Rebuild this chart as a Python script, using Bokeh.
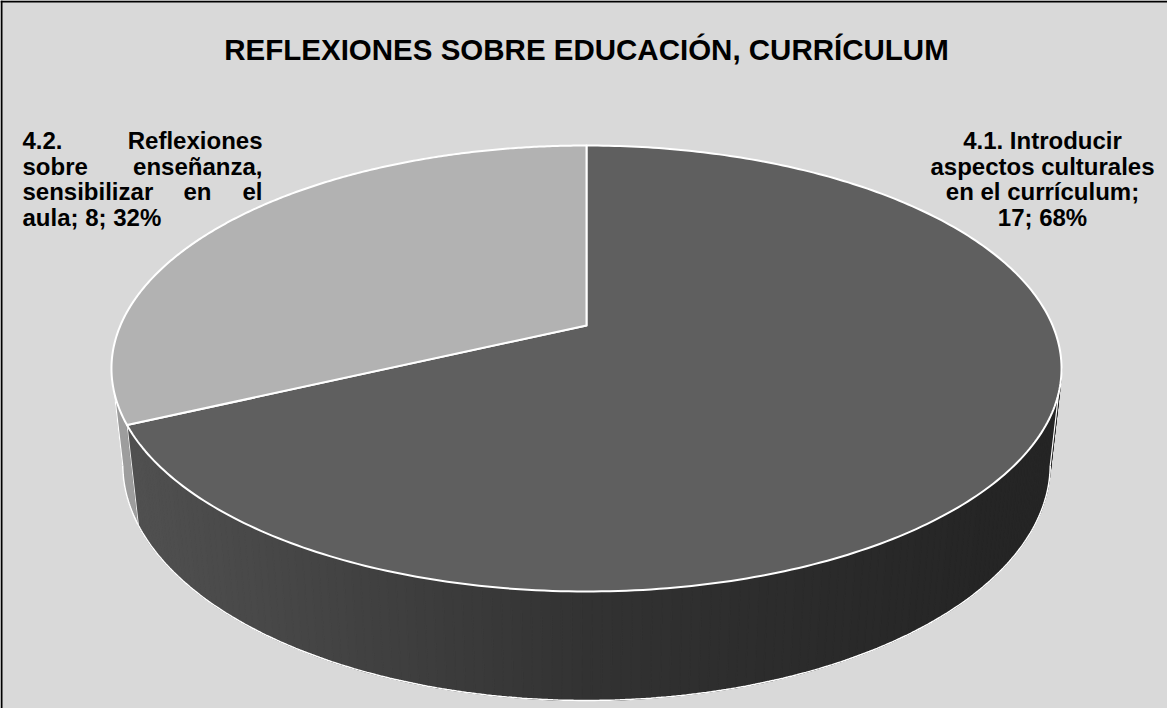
import numpy as np
from bokeh.plotting import figure
from bokeh.models import Range1d, Span
from bokeh.core.properties import value
from bokeh.embed import file_html
from bokeh.resources import INLINE

# ---------------- data ----------------
categories = [
    "4.1. Introducir aspectos culturales en el currículum",
    "4.2. Reflexiones sobre enseñanza, sensibilizar en el aula",
]
counts = [17, 8]
top_colors = ["#5f5f5f", "#b2b2b2"]
title_text = "REFLEXIONES SOBRE EDUCACIÓN, CURRÍCULUM"

total = sum(counts)
pcts = [round(100 * c / total) for c in counts]

# label line breaks (layout of the data labels)
label1_lines = ["4.1. Introducir", "aspectos culturales", "en el currículum;",
                f"{counts[0]}; {pcts[0]}%"]
label2_words = [["4.2.", "Reflexiones"], ["sobre", "enseñanza,"],
                ["sensibilizar", "en", "el"], [f"aula; {counts[1]}; {pcts[1]}%"]]

# ---------------- layout ----------------
W, H = 1167, 708
OFF = 8  # page margin; data coords = page px - 8
FONT = value("Liberation Sans")

p = figure(width=W, height=H, x_range=Range1d(0, W), y_range=Range1d(H, 0),
           output_backend="svg", toolbar_location=None, min_border=0,
           x_axis_location=None, y_axis_location=None)
p.grid.visible = False
p.outline_line_color = None
p.background_fill_color = "#d9d9d9"
p.border_fill_color = "#d9d9d9"

# perspective projection of a disk (radius 1, thickness h)
cx, cy = 594 - OFF, 333 - OFF
sin_a, cos_a = 0.4606, 0.8876
dist = 4.604
Fp = 2146.0
h = 0.2338


def proj(phi, z):
    depth = dist + cos_a * np.cos(phi) - z * sin_a
    sx = Fp * np.sin(phi) / depth
    sy = Fp * (sin_a * np.cos(phi) + z * cos_a) / depth
    return cx + sx, cy - sy


bounds = np.concatenate([[0], np.cumsum(counts)]) / total * 2 * np.pi
phi_r = np.arccos(-cos_a / dist)
phi_l = 2 * np.pi - phi_r


def dark_shade(xpage):
    v = int(round(np.interp(xpage, [140, 600, 1000], [80, 50, 37])))
    return "#%02x%02x%02x" % (v, v, v)


# walls: base patch per slice (avoids seams), then gradient strips
base_xs, base_ys, base_cols = [], [], []
wall_xs, wall_ys, wall_cols = [], [], []
for i in range(len(counts)):
    a0 = max(bounds[i], phi_r)
    a1 = min(bounds[i + 1], phi_l)
    if a1 <= a0:
        continue
    n = max(2, int(np.degrees(a1 - a0) / 1.0))
    ph = np.linspace(a0, a1, n + 1)
    tx, ty = proj(ph, 0)
    bx, by = proj(ph[::-1], -h)
    base_xs.append(np.concatenate([tx, bx]).tolist())
    base_ys.append(np.concatenate([ty, by]).tolist())
    base_cols.append("#3a3a3a" if i == 0 else "#9d9d9d")
    if i != 0:
        continue
    for j in range(n):
        tx0, ty0 = proj(ph[j], 0)
        tx1, ty1 = proj(ph[j + 1], 0)
        bx1, by1 = proj(ph[j + 1], -h)
        bx0, by0 = proj(ph[j], -h)
        wall_xs.append([tx0, tx1, bx1, bx0])
        wall_ys.append([ty0, ty1, by1, by0])
        wall_cols.append(dark_shade((tx0 + tx1) / 2 + OFF))
p.patches(base_xs, base_ys, fill_color=base_cols, line_color=base_cols, line_width=1)
p.patches(wall_xs, wall_ys, fill_color=wall_cols, line_color=wall_cols, line_width=1.2)

# wall outlines
ph = np.linspace(phi_r, phi_l, 300)
bx, by = proj(ph, -h)
p.line(bx, by, line_color="white", line_width=1.5)
for a in (phi_r, phi_l):
    x0, y0 = proj(a, 0)
    x1, y1 = proj(a, -h)
    p.line([x0, x1], [y0, y1], line_color="white", line_width=1.2)
for a in bounds[1:-1]:
    if phi_r < a < phi_l:
        x0, y0 = proj(a, 0)
        x1, y1 = proj(a, -h)
        p.line([x0, x1], [y0, y1], line_color="#e8e8e8", line_width=1)

# top faces
top_xs, top_ys = [], []
for i in range(len(counts)):
    ph = np.linspace(bounds[i], bounds[i + 1], 300)
    tx, ty = proj(ph, 0)
    top_xs.append(np.concatenate([[cx], tx]).tolist())
    top_ys.append(np.concatenate([[cy], ty]).tolist())
p.patches(top_xs, top_ys, fill_color=top_colors, line_color="white", line_width=2,
          line_join="round")

# border (left & top)
p.add_layout(Span(location=1, dimension="height", line_color="black", line_width=2))
p.add_layout(Span(location=1, dimension="width", line_color="black", line_width=2))

# title
p.text(x=[594 - OFF], y=[57 - OFF], text=[title_text], text_font=FONT,
       text_font_size="29.5px", text_font_style="bold", text_align="center",
       text_baseline="alphabetic", text_color="black")

# label 4.1 (centered)
base = [148, 173.5, 199, 224.5]
p.text(x=[1050 - OFF] * 4, y=[b - OFF for b in base], text=label1_lines, text_font=FONT,
       text_font_size="24px", text_font_style="bold", text_align="center",
       text_baseline="alphabetic", text_color="black")

# label 4.2 (justified)
lx, rx, mid = 30 - OFF, 270 - OFF, 205 - OFF
txs, tys, tts, tal = [], [], [], []
for k, words in enumerate(label2_words):
    yb = base[k] - OFF
    if len(words) == 1:
        txs.append(lx); tys.append(yb); tts.append(words[0]); tal.append("left")
    elif len(words) == 2:
        txs += [lx, rx]; tys += [yb, yb]; tts += words; tal += ["left", "right"]
    else:
        txs += [lx, mid, rx]; tys += [yb] * 3; tts += words; tal += ["left", "center", "right"]
p.text(x=txs, y=tys, text=tts, text_align=tal, text_font=FONT, text_font_size="24px",
       text_font_style="bold", text_baseline="alphabetic", text_color="black")

open("out.html", "w").write(file_html(p, INLINE))
